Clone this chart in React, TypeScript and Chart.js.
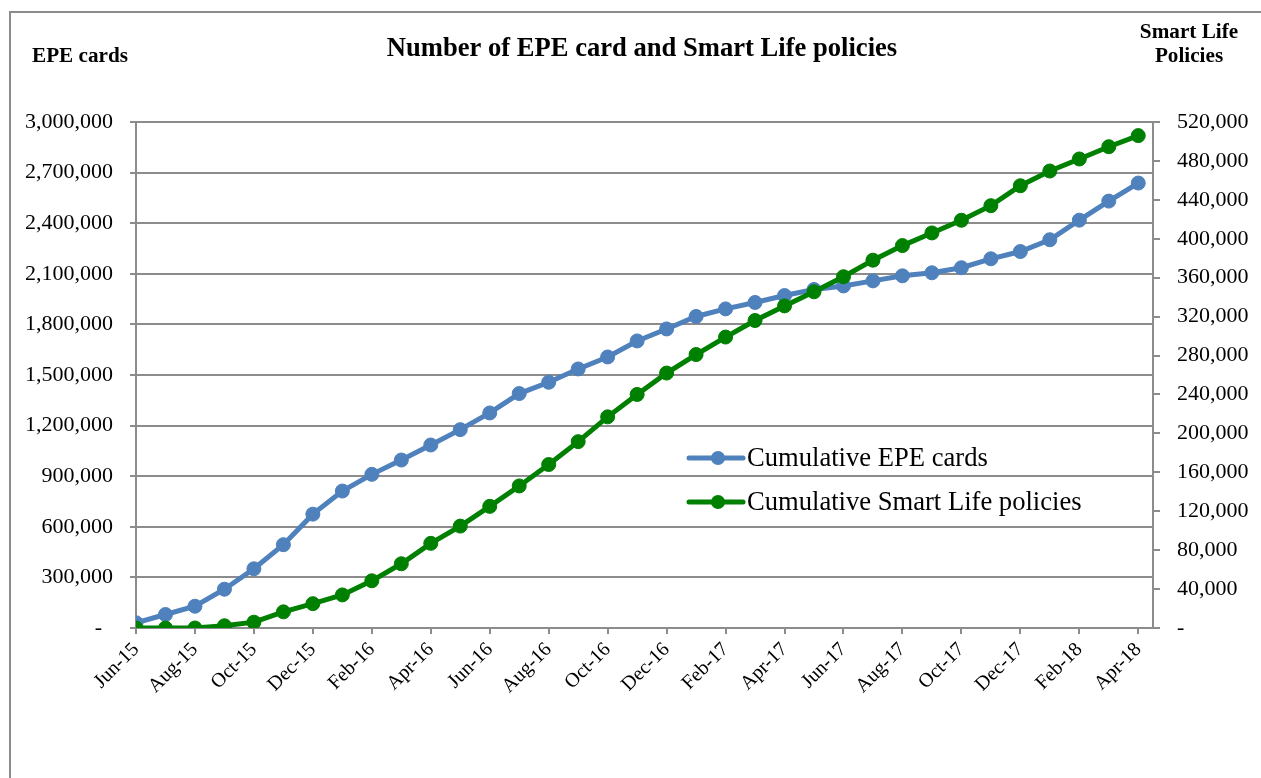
import React, { useEffect, useRef } from "react";
import { Chart, registerables } from "chart.js";

Chart.register(...registerables);

const months = [
  "Jun-15", "Jul-15", "Aug-15", "Sep-15", "Oct-15", "Nov-15", "Dec-15",
  "Jan-16", "Feb-16", "Mar-16", "Apr-16", "May-16", "Jun-16", "Jul-16",
  "Aug-16", "Sep-16", "Oct-16", "Nov-16", "Dec-16", "Jan-17", "Feb-17",
  "Mar-17", "Apr-17", "May-17", "Jun-17", "Jul-17", "Aug-17", "Sep-17",
  "Oct-17", "Nov-17", "Dec-17", "Jan-18", "Feb-18", "Mar-18", "Apr-18",
];

const epeCards = [
  31000, 80000, 129000, 230000, 351000, 494000, 675000, 812000, 911000, 996000,
  1085000, 1176000, 1275000, 1390000, 1457000, 1536000, 1607000, 1702000, 1773000, 1847000,
  1892000, 1930000, 1971000, 2007000, 2028000, 2058000, 2088000, 2106000, 2136000, 2189000,
  2232000, 2302000, 2418000, 2531000, 2638000,
];

const smartLife = [
  0, 0, 0, 2300, 6000, 16600, 25000, 34000, 48500, 66000,
  87000, 104700, 125000, 146000, 168000, 191500, 217000, 240000, 262000, 281000,
  299000, 316000, 331000, 345500, 361000, 378000, 393000, 406000, 419000, 434000,
  454500, 469600, 482000, 494600, 506000,
];

const seriesNames = ["Cumulative EPE cards", "Cumulative Smart Life policies"];
const seriesColors = ["#4F81BD", "#008000"];

const chartTitle = "Number of EPE card and Smart Life policies";
const leftAxisTitle = ["EPE cards"];
const rightAxisTitle = ["Smart Life", "Policies"];

const SERIF = "'Liberation Serif', 'Times New Roman', serif";
const GRID = "#8c8c8c";

const fmt = (v: number) => (v === 0 ? "-  " : Math.round(v).toLocaleString("en-US"));
const fmtR = (v: number) => (v === 0 ? "-" : Math.round(v).toLocaleString("en-US"));

const decor = {
  id: "decor",
  beforeDraw(chart: any) {
    const ctx = chart.ctx;
    ctx.save();
    ctx.fillStyle = "#ffffff";
    ctx.fillRect(0, 0, chart.width, chart.height);
    ctx.strokeStyle = GRID;
    ctx.lineWidth = 2;
    ctx.strokeRect(10, 12, chart.width + 60, chart.height + 60);
    ctx.restore();
  },
  afterDraw(chart: any) {
    const ctx = chart.ctx;
    ctx.save();
    ctx.fillStyle = "#000";
    ctx.textBaseline = "middle";
    ctx.textAlign = "center";
    ctx.font = `bold 26.6px ${SERIF}`;
    ctx.fillText(chartTitle, 642, 49);
    ctx.font = `bold 21.2px ${SERIF}`;
    leftAxisTitle.forEach((t, i) => ctx.fillText(t, 80, 57 + i * 24));
    rightAxisTitle.forEach((t, i) => ctx.fillText(t, 1189, 33 + i * 24));

    // legend inside the plot
    const lx = 689;
    const ys = [458, 502];
    seriesNames.forEach((name, i) => {
      const y = ys[i];
      ctx.strokeStyle = seriesColors[i];
      ctx.lineWidth = 5;
      ctx.lineCap = "round";
      ctx.beginPath();
      ctx.moveTo(lx, y);
      ctx.lineTo(lx + 54, y);
      ctx.stroke();
      ctx.fillStyle = seriesColors[i];
      ctx.beginPath();
      ctx.arc(lx + 29, y, 7, 0, Math.PI * 2);
      ctx.fill();
      ctx.fillStyle = "#000";
      ctx.textAlign = "left";
      ctx.font = `26.6px ${SERIF}`;
      ctx.fillText(name, lx + 58, y + 1);
    });
    ctx.restore();
  },
};

export default function App() {
  const ref = useRef<HTMLCanvasElement | null>(null);

  useEffect(() => {
    if (!ref.current) return;
    const chart = new Chart(ref.current, {
      type: "line",
      data: {
        datasets: [
          {
            label: seriesNames[0],
            data: epeCards.map((v, i) => ({ x: i, y: v })),
            borderColor: seriesColors[0],
            backgroundColor: seriesColors[0],
            pointBackgroundColor: seriesColors[0],
            pointBorderColor: seriesColors[0],
            borderWidth: 5,
            pointRadius: 7,
            pointBorderWidth: 1,
            tension: 0,
            yAxisID: "y",
            order: 2,
          },
          {
            label: seriesNames[1],
            data: smartLife.map((v, i) => ({ x: i, y: v })),
            borderColor: seriesColors[1],
            backgroundColor: seriesColors[1],
            pointBackgroundColor: seriesColors[1],
            pointBorderColor: seriesColors[1],
            borderWidth: 5,
            pointRadius: 7,
            pointBorderWidth: 1,
            tension: 0,
            yAxisID: "y2",
            order: 1,
          },
        ],
      },
      options: {
        animation: false,
        responsive: false,
        maintainAspectRatio: false,
        layout: { padding: { top: 122, left: 0, right: 0, bottom: 0 } },
        plugins: {
          legend: { display: false },
          tooltip: { enabled: false },
          title: { display: false },
        },
        scales: {
          x: {
            type: "linear",
            min: 0,
            max: 34.5,
            afterBuildTicks: (s: any) => {
              s.ticks = months
                .map((_, i) => ({ value: i }))
                .filter((t) => t.value % 2 === 0);
            },
            afterFit: (s: any) => {
              s.height = 150;
            },
            ticks: {
              autoSkip: false,
              maxRotation: 45,
              minRotation: 45,
              padding: 4,
              color: "#000",
              font: { family: SERIF, size: 20 },
              callback: (v: any) => months[v] ?? "",
            },
            grid: {
              drawOnChartArea: false,
              drawTicks: true,
              tickLength: 6,
              color: GRID,
              lineWidth: 2,
            },
            border: { color: GRID, width: 2 },
          },
          y: {
            position: "left",
            min: 0,
            max: 3000000,
            afterFit: (s: any) => {
              s.width = 136;
            },
            ticks: {
              stepSize: 300000,
              padding: 17,
              color: "#000",
              font: { family: SERIF, size: 22 },
              callback: (v: any) => fmt(Number(v)),
            },
            grid: { color: GRID, lineWidth: 2, tickLength: 6 },
            border: { color: GRID, width: 2 },
          },
          y2: {
            position: "right",
            min: 0,
            max: 520000,
            afterFit: (s: any) => {
              s.width = 108;
            },
            ticks: {
              stepSize: 40000,
              padding: 17,
              color: "#000",
              font: { family: SERIF, size: 22 },
              callback: (v: any) => fmtR(Number(v)),
            },
            grid: { drawOnChartArea: false, color: GRID, lineWidth: 2, tickLength: 7 },
            border: { color: GRID, width: 2 },
          },
        },
      },
      plugins: [decor],
    });
    return () => chart.destroy();
  }, []);

  return (
    <div style={{ position: "fixed", left: 0, top: 0, width: 1261, height: 778, background: "#fff" }}>
      <canvas ref={ref} width={1261} height={778} style={{ display: "block", width: 1261, height: 778 }} />
    </div>
  );
}
